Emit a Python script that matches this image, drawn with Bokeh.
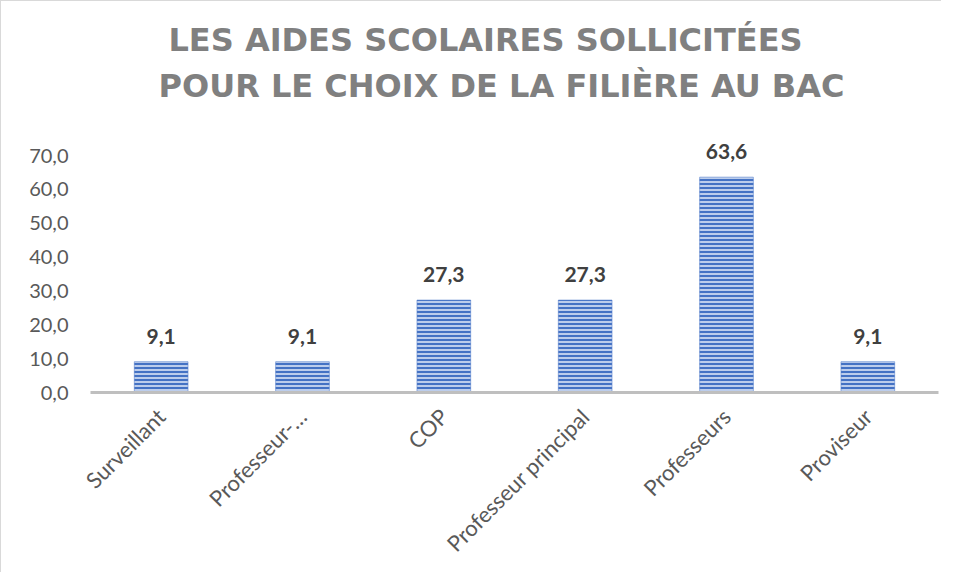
from bokeh.plotting import figure
from bokeh.models import (ColumnDataSource, Range1d, FactorRange, FixedTicker,
                          CustomJSTickFormatter, Label, LabelSet)
from bokeh.core.properties import value
from bokeh.embed import file_html
from bokeh.resources import INLINE
import math

categories = ["Surveillant", "Professeur-…", "COP", "Professeur principal", "Professeurs", "Proviseur"]
values = [9.1, 9.1, 27.3, 27.3, 63.6, 9.1]
y_ticks = [0, 10, 20, 30, 40, 50, 60, 70]
title_lines = ["LES AIDES SCOLAIRES SOLLICITÉES", "POUR LE CHOIX DE LA FILIÈRE AU BAC"]

labels = [f"{v:.1f}".replace(".", ",") for v in values]
source = ColumnDataSource(data=dict(cat=categories, val=values, lab=labels))

W, H = 941, 572
TOP, BOTTOM, LEFT, RIGHT = 9, 181, 89, 4
frame_h = H - TOP - BOTTOM
px_per_unit = 237 / 70.0          # 70 units span 237 px in the reference
y_end = frame_h / px_per_unit     # extend range so the title fits inside the frame

p = figure(width=W, height=H, output_backend="svg", toolbar_location=None,
           x_range=FactorRange(*categories), y_range=Range1d(0, y_end),
           min_border_left=LEFT, min_border_right=RIGHT,
           min_border_top=TOP, min_border_bottom=BOTTOM,
           styles={"border-left": "1px solid #D9D9D9", "border-top": "1px solid #D9D9D9"})
p.x_range.range_padding = 0
p.outline_line_color = None
p.background_fill_color = "white"
p.border_fill_color = "white"
p.xgrid.grid_line_color = None
p.ygrid.grid_line_color = None

p.vbar(x="cat", top="val", width=0.38, source=source,
       fill_color="#BCCDEC", line_color="#5B83CC", line_width=0.6,
       hatch_pattern="horizontal_line", hatch_color="#4472C4",
       hatch_scale=4, hatch_weight=2)

p.add_layout(LabelSet(x="cat", y="val", text="lab", source=source,
                      text_align="center", text_baseline="bottom", y_offset=18,
                      text_font=value("Lato"), text_font_style="bold",
                      text_font_size=value("21px"), text_color="#404040"))

# y axis
yax = p.yaxis[0]
yax.ticker = FixedTicker(ticks=y_ticks)
yax.formatter = CustomJSTickFormatter(code="return tick.toFixed(1).replace('.', ',');")
yax.axis_line_color = None
yax.major_tick_line_color = None
yax.minor_tick_line_color = None
yax.major_tick_out = 0
yax.major_label_standoff = 22
yax.major_label_text_font = "Lato"
yax.major_label_text_font_size = "20px"
yax.major_label_text_color = "#595959"

# x axis
xax = p.xaxis[0]
xax.axis_line_color = "#BFBFBF"
xax.axis_line_width = 3
xax.major_tick_line_color = None
xax.minor_tick_line_color = None
xax.major_tick_out = 0
xax.major_label_standoff = 20
xax.major_label_orientation = math.pi / 4
xax.major_label_text_font = "Lato"
xax.major_label_text_font_size = "22px"
xax.major_label_text_color = "#595959"

# two-line title (screen units measured from the frame's bottom-left corner)
frame_bottom = H - BOTTOM + 1
title_x = [487 - 3 - LEFT, 503 - 3 - LEFT]
title_base = [39, 85]
for line, tx, ty in zip(title_lines, title_x, title_base):
    p.add_layout(Label(x=tx, y=frame_bottom - ty, x_units="screen", y_units="screen",
                       text=line, text_align="center", text_baseline="alphabetic",
                       text_font="DejaVu Sans", text_font_style="bold", text_font_size="32px",
                       text_color="#808080"))

open("out.html", "w").write(file_html(p, INLINE))
